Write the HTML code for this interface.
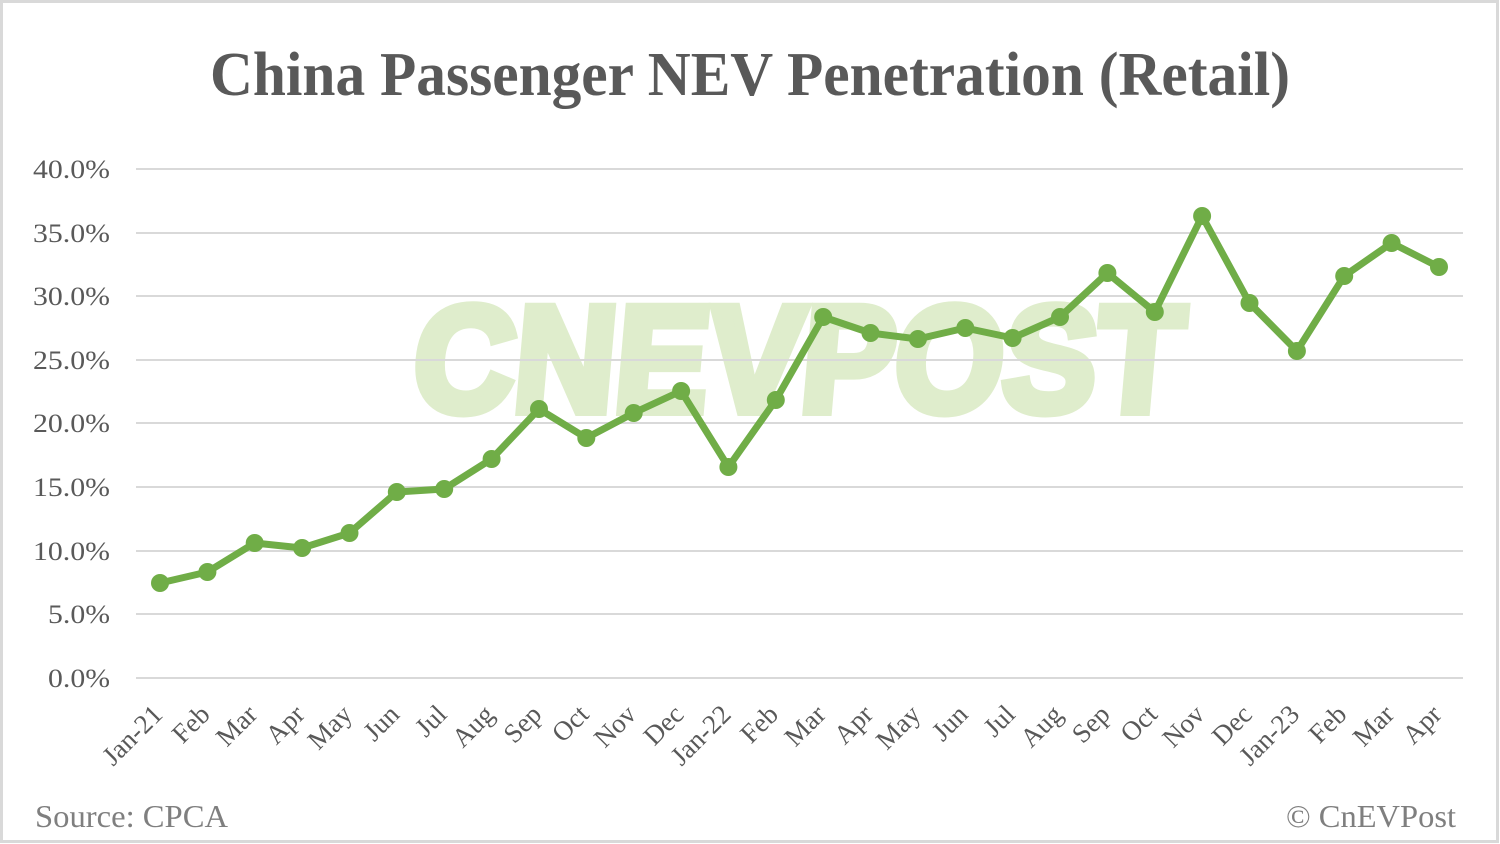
<!DOCTYPE html>
<html>
<head>
<meta charset="utf-8">
<style>
  html,body{margin:0;padding:0;background:#fff;}
  svg{display:block;}
  text{font-family:"Liberation Serif","Times New Roman",serif;}
</style>
</head>
<body>
<svg width="1500" height="844" viewBox="0 0 1500 844" xmlns="http://www.w3.org/2000/svg">
  <rect x="0" y="0" width="1500" height="844" fill="#ffffff"/>
  <rect x="1.5" y="1.5" width="1496" height="840" fill="none" stroke="#d9d9d9" stroke-width="3"/>

  <!-- Title -->
  <text x="750" y="95" text-anchor="middle" font-size="62" font-weight="bold" fill="#595959" textLength="1080" lengthAdjust="spacingAndGlyphs">China Passenger NEV Penetration (Retail)</text>

  <!-- Watermark -->
  <text x="0" y="0" transform="translate(410,411) skewX(-5)" font-size="150" font-weight="bold" fill="#dfedcc" stroke="#dfedcc" stroke-width="10" stroke-linejoin="miter" textLength="768" lengthAdjust="spacingAndGlyphs" style="font-family:'Liberation Sans',Arial,sans-serif">CNEVPOST</text>

  <!-- Gridlines -->
  <g stroke="#d9d9d9" stroke-width="2">
    <line x1="136" y1="169" x2="1463" y2="169"/>
    <line x1="136" y1="233" x2="1463" y2="233"/>
    <line x1="136" y1="296" x2="1463" y2="296"/>
    <line x1="136" y1="360" x2="1463" y2="360"/>
    <line x1="136" y1="423" x2="1463" y2="423"/>
    <line x1="136" y1="487" x2="1463" y2="487"/>
    <line x1="136" y1="551" x2="1463" y2="551"/>
    <line x1="136" y1="614" x2="1463" y2="614"/>
    <line x1="136" y1="678" x2="1463" y2="678"/>
  </g>

  <!-- Y labels -->
  <g font-size="26" fill="#595959" text-anchor="end">
    <text x="110" y="178" textLength="77" lengthAdjust="spacingAndGlyphs">40.0%</text>
    <text x="110" y="242" textLength="77" lengthAdjust="spacingAndGlyphs">35.0%</text>
    <text x="110" y="305" textLength="77" lengthAdjust="spacingAndGlyphs">30.0%</text>
    <text x="110" y="369" textLength="77" lengthAdjust="spacingAndGlyphs">25.0%</text>
    <text x="110" y="432" textLength="77" lengthAdjust="spacingAndGlyphs">20.0%</text>
    <text x="110" y="496" textLength="77" lengthAdjust="spacingAndGlyphs">15.0%</text>
    <text x="110" y="560" textLength="77" lengthAdjust="spacingAndGlyphs">10.0%</text>
    <text x="110" y="623" textLength="62" lengthAdjust="spacingAndGlyphs">5.0%</text>
    <text x="110" y="687" textLength="62" lengthAdjust="spacingAndGlyphs">0.0%</text>
  </g>

  <!-- Series line -->
  <polyline fill="none" stroke="#70ad47" stroke-width="7" stroke-linejoin="round" stroke-linecap="round"
    points="160,583 207.4,572 254.7,543 302.1,548 349.5,533 396.8,492 444.2,489 491.6,459 539,409 586.3,438 633.7,413 681.1,391 728.4,467 775.8,400 823.2,317 870.5,333 917.9,339 965.3,328 1012.6,338 1060,317 1107.4,273 1154.8,312 1202.1,216 1249.5,303 1296.9,351 1344.2,276 1391.6,243 1439,267"/>

  <!-- Markers -->
  <g fill="#70ad47">
    <circle cx="160" cy="583" r="9"/>
    <circle cx="207.4" cy="572" r="9"/>
    <circle cx="254.7" cy="543" r="9"/>
    <circle cx="302.1" cy="548" r="9"/>
    <circle cx="349.5" cy="533" r="9"/>
    <circle cx="396.8" cy="492" r="9"/>
    <circle cx="444.2" cy="489" r="9"/>
    <circle cx="491.6" cy="459" r="9"/>
    <circle cx="539" cy="409" r="9"/>
    <circle cx="586.3" cy="438" r="9"/>
    <circle cx="633.7" cy="413" r="9"/>
    <circle cx="681.1" cy="391" r="9"/>
    <circle cx="728.4" cy="467" r="9"/>
    <circle cx="775.8" cy="400" r="9"/>
    <circle cx="823.2" cy="317" r="9"/>
    <circle cx="870.5" cy="333" r="9"/>
    <circle cx="917.9" cy="339" r="9"/>
    <circle cx="965.3" cy="328" r="9"/>
    <circle cx="1012.6" cy="338" r="9"/>
    <circle cx="1060" cy="317" r="9"/>
    <circle cx="1107.4" cy="273" r="9"/>
    <circle cx="1154.8" cy="312" r="9"/>
    <circle cx="1202.1" cy="216" r="9"/>
    <circle cx="1249.5" cy="303" r="9"/>
    <circle cx="1296.9" cy="351" r="9"/>
    <circle cx="1344.2" cy="276" r="9"/>
    <circle cx="1391.6" cy="243" r="9"/>
    <circle cx="1439" cy="267" r="9"/>
  </g>

  <!-- X labels -->
  <g font-size="27" fill="#595959" text-anchor="end">
    <text transform="translate(164,716) rotate(-45)">Jan-21</text>
    <text transform="translate(211.4,716) rotate(-45)">Feb</text>
    <text transform="translate(258.7,716) rotate(-45)">Mar</text>
    <text transform="translate(306.1,716) rotate(-45)">Apr</text>
    <text transform="translate(353.5,716) rotate(-45)">May</text>
    <text transform="translate(400.8,716) rotate(-45)">Jun</text>
    <text transform="translate(448.2,716) rotate(-45)">Jul</text>
    <text transform="translate(495.6,716) rotate(-45)">Aug</text>
    <text transform="translate(543,716) rotate(-45)">Sep</text>
    <text transform="translate(590.3,716) rotate(-45)">Oct</text>
    <text transform="translate(637.7,716) rotate(-45)">Nov</text>
    <text transform="translate(685.1,716) rotate(-45)">Dec</text>
    <text transform="translate(732.4,716) rotate(-45)">Jan-22</text>
    <text transform="translate(779.8,716) rotate(-45)">Feb</text>
    <text transform="translate(827.2,716) rotate(-45)">Mar</text>
    <text transform="translate(874.5,716) rotate(-45)">Apr</text>
    <text transform="translate(921.9,716) rotate(-45)">May</text>
    <text transform="translate(969.3,716) rotate(-45)">Jun</text>
    <text transform="translate(1016.6,716) rotate(-45)">Jul</text>
    <text transform="translate(1064,716) rotate(-45)">Aug</text>
    <text transform="translate(1111.4,716) rotate(-45)">Sep</text>
    <text transform="translate(1158.8,716) rotate(-45)">Oct</text>
    <text transform="translate(1206.1,716) rotate(-45)">Nov</text>
    <text transform="translate(1253.5,716) rotate(-45)">Dec</text>
    <text transform="translate(1300.9,716) rotate(-45)">Jan-23</text>
    <text transform="translate(1348.2,716) rotate(-45)">Feb</text>
    <text transform="translate(1395.6,716) rotate(-45)">Mar</text>
    <text transform="translate(1443,716) rotate(-45)">Apr</text>
  </g>

  <!-- Footer -->
  <text x="35" y="827" font-size="32" fill="#7f7f7f" textLength="193" lengthAdjust="spacingAndGlyphs">Source: CPCA</text>
  <text x="1456" y="827" font-size="32" fill="#7f7f7f" text-anchor="end" textLength="170" lengthAdjust="spacingAndGlyphs">© CnEVPost</text>
</svg>
</body>
</html>
